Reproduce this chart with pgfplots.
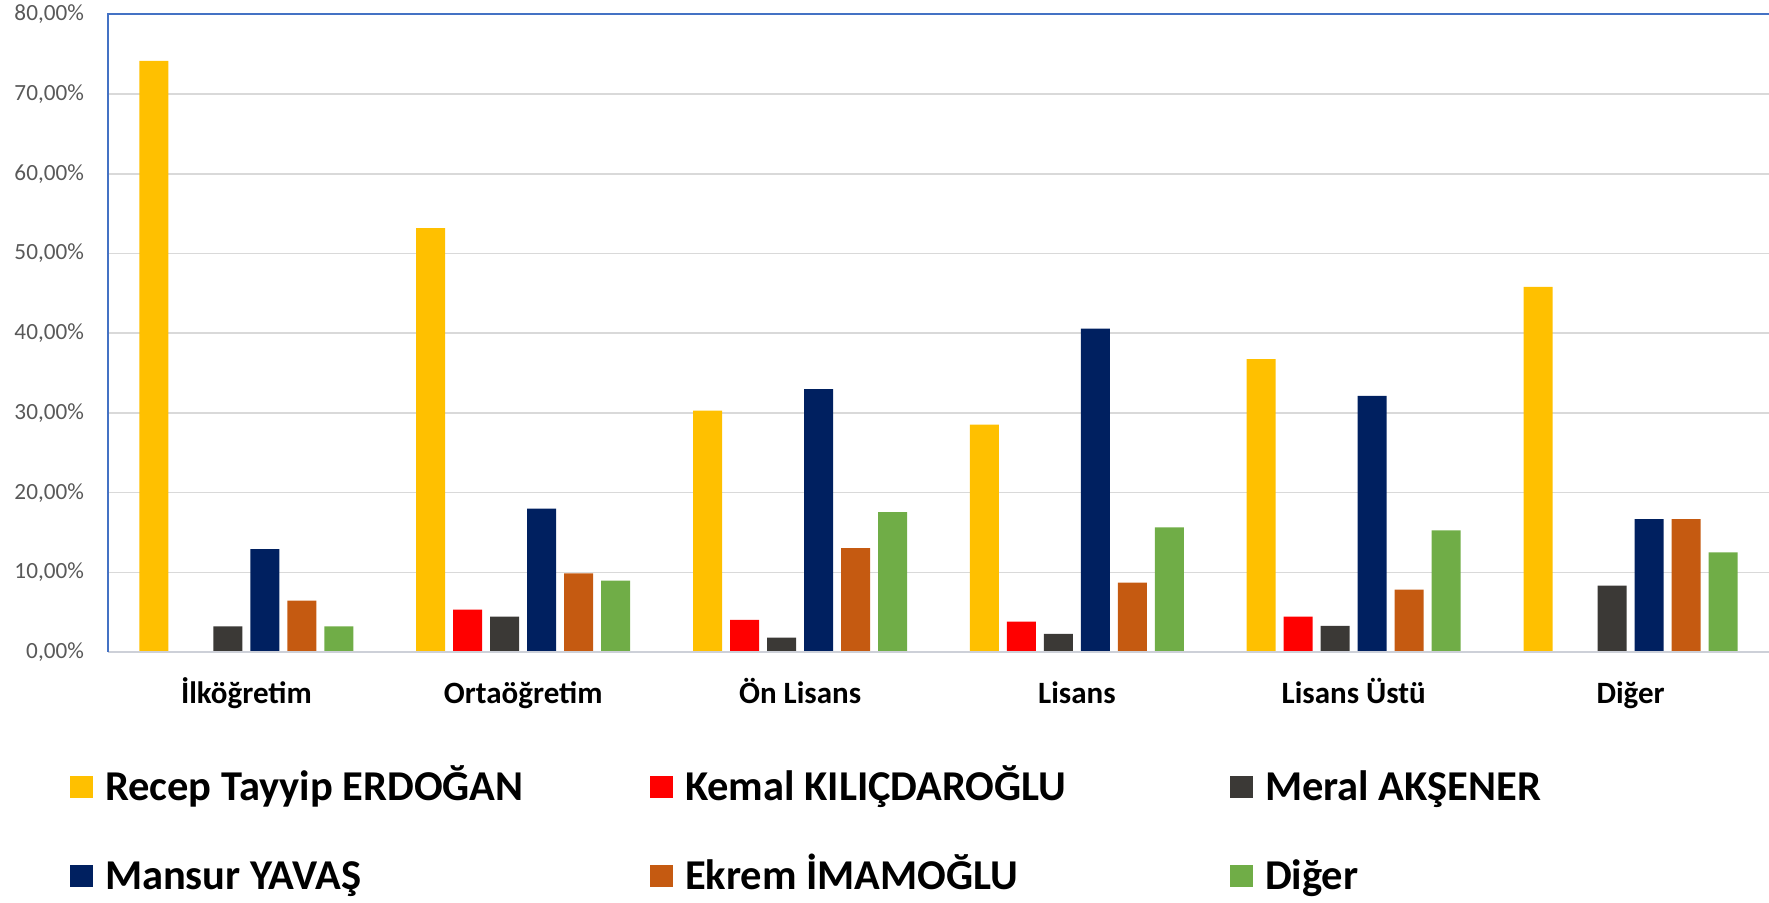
\documentclass[border=0pt]{standalone}
\usepackage{pgfplots}
\pgfplotsset{compat=1.18}
\usepackage{fontspec}
\setmainfont{Carlito}
\definecolor{cYel}{HTML}{FFC000}
\definecolor{cRed}{HTML}{FF0000}
\definecolor{cDark}{HTML}{3B3936}
\definecolor{cNavy}{HTML}{002060}
\definecolor{cOrange}{HTML}{C55A11}
\definecolor{cGreen}{HTML}{70AD47}
\definecolor{gridgray}{HTML}{D9D9D9}
\definecolor{basegray}{HTML}{CDD0D8}
\definecolor{axisblue}{HTML}{4472C4}
\definecolor{tickgray}{HTML}{595959}
\pgfplotsset{sqlegend/.style={legend image code/.code={\fill[##1] (0pt,1.2pt) rectangle (11.25pt,12.45pt);}}}
\begin{document}
\begin{tikzpicture}
\begin{axis}[
  at={(54pt,125.5pt)}, anchor=south west,
  scale only axis, width=830.5pt, height=318.75pt,
  xmin=-0.5, xmax=5.5, ymin=0, ymax=80,
  clip=false,
  ybar, bar width=14.5pt,
  xtick={0,1,2,3,4,5},
  xticklabels={İlköğretim,Ortaöğretim,Ön Lisans,Lisans,Lisans Üstü,Diğer},
  ytick={0,10,20,30,40,50,60,70,80},
  yticklabels={{0,00\%},{10,00\%},{20,00\%},{30,00\%},{40,00\%},{50,00\%},{60,00\%},{70,00\%},{80,00\%}},
  xticklabel style={font=\fontsize{15.5}{18}\selectfont\bfseries, text=black, anchor=base, yshift=-26pt},
  yticklabel style={font=\fontsize{11.6}{14}\selectfont, text=tickgray, anchor=east, inner sep=0pt, xshift=-11.85pt},
  major tick length=0pt,
  axis line style={draw=none},
  ymajorgrids, grid style={draw=gridgray, line width=0.75pt},
  legend columns=3,
  legend style={at={(axis description cs:-0.02288,-0.1893)}, anchor=north west, draw=none, fill=none, inner sep=0pt, outer sep=0pt, column sep=0pt, row sep=26.5pt, font=\fontsize{21.25}{25}\selectfont\bfseries, nodes={text width=272.5pt, align=flush left, text height=14pt, text depth=4pt, inner sep=0pt, anchor=base west, execute at begin node={\spaceskip=0pt\xspaceskip=0pt}}},
  /tikz/every odd column/.append style={column sep=6.25pt},
]
\addplot[fill=cYel, draw=none, bar shift=-46.25pt, sqlegend] coordinates {(0,74.19) (1,53.18) (2,30.29) (3,28.54) (4,36.75) (5,45.83)};
\addlegendentry{Recep Tayyip ERDOĞAN}
\addplot[fill=cRed, draw=none, bar shift=-27.75pt, sqlegend] coordinates {(1,5.32) (2,4.02) (3,3.81) (4,4.44)};
\addlegendentry{Kemal KILIÇDAROĞLU}
\addplot[fill=cDark, draw=none, bar shift=-9.25pt, sqlegend] coordinates {(0,3.23) (1,4.44) (2,1.80) (3,2.26) (4,3.27) (5,8.33)};
\addlegendentry{Meral AKŞENER}
\addplot[fill=cNavy, draw=none, bar shift=9.25pt, sqlegend] coordinates {(0,12.90) (1,17.99) (2,33.00) (3,40.59) (4,32.13) (5,16.67)};
\addlegendentry{Mansur YAVAŞ}
\addplot[fill=cOrange, draw=none, bar shift=27.75pt, sqlegend] coordinates {(0,6.45) (1,9.85) (2,13.03) (3,8.72) (4,7.84) (5,16.67)};
\addlegendentry{Ekrem İMAMOĞLU}
\addplot[fill=cGreen, draw=none, bar shift=46.25pt, sqlegend] coordinates {(0,3.23) (1,8.97) (2,17.56) (3,15.64) (4,15.26) (5,12.50)};
\addlegendentry{Diğer}
\draw[basegray, line width=1pt] (rel axis cs:0,0) -- (rel axis cs:1,0);
\draw[axisblue, line width=1pt] (rel axis cs:0,0) -- (rel axis cs:0,1) -- (rel axis cs:1,1);
\end{axis}
\pgfresetboundingbox
\path[use as bounding box] (0pt,0pt) rectangle (884.5pt,451.5pt);
\end{tikzpicture}
\end{document}
